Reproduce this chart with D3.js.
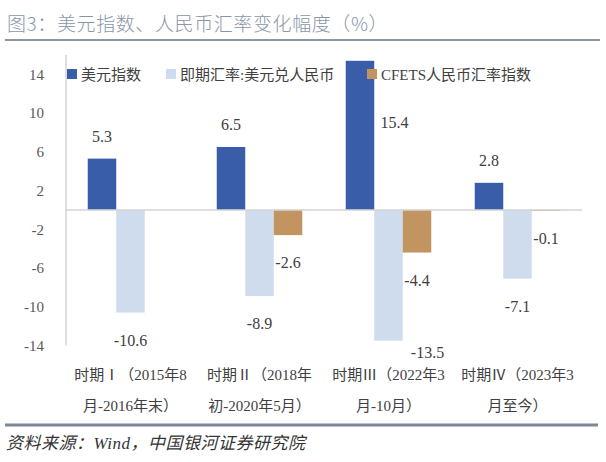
<!DOCTYPE html>
<html>
<head>
<meta charset="utf-8">
<script src="https://cdn.jsdelivr.net/npm/d3@7"></script>
<style>
  html, body { margin: 0; padding: 0; background: #fff; }
  svg { display: block; }
</style>
</head>
<body>
<svg id="chart" width="606" height="462"></svg>
<script>
// ---- data ----
const categories = ["时期Ⅰ（2015年8月-2016年末）", "时期Ⅱ（2018年初-2020年5月）", "时期Ⅲ（2022年3月-10月）", "时期Ⅳ（2023年3月至今）"];
const categoryLines = [
  ["时期Ⅰ（2015年8", "月-2016年末）"],
  ["时期Ⅱ（2018年", "初-2020年5月）"],
  ["时期Ⅲ（2022年3", "月-10月）"],
  ["时期Ⅳ（2023年3", "月至今）"]
];
const seriesNames = ["美元指数", "即期汇率:美元兑人民币", "CFETS人民币汇率指数"];
const usdIndex = [5.3, 6.5, 15.4, 2.8];
const spotRate = [-10.6, -8.9, -13.5, -7.1];
const cfetsIndex = [null, -2.6, -4.4, -0.1];
const yTicks = [-14, -10, -6, -2, 2, 6, 10, 14];
const yDomain = [-14, 16];
const titleText = "图3：美元指数、人民币汇率变化幅度（%）";
const sourceText = "资料来源：Wind，中国银河证券研究院";

// ---- styles / layout ----
const colors = ["#3A5DAA", "#CFDCEE", "#C29560"];
const seriesValues = [usdIndex, spotRate, cfetsIndex];
const numFont = "'Liberation Serif', 'Noto Sans CJK SC', serif";
const cjkFont = "'Liberation Serif', 'Noto Sans CJK SC', sans-serif";
const legendX = [67, 166, 367];
// manual label nudges (px) for labels moved off their default spot, keyed "series-category"
const labelNudge = { "0-2": { dx: 34.5, fromEnd: 67.5 }, "1-2": { dx: 39, fromEnd: 17 } };

const fmt = v => v.toFixed(1);            // plain hyphen minus like the reference
const fmtTick = v => String(v);

const svg = d3.select("#chart");

const x = d3.scaleBand().domain(categories).range([66, 582]).paddingInner(0.337).paddingOuter(0.1685);
const xs = d3.scaleBand().domain(seriesNames).range([0, x.bandwidth()]).padding(0);
const y = d3.scaleLinear().domain(yDomain).range([345.5, 55]);

// title
svg.append("text")
  .attr("x", 7).attr("y", 31)
  .attr("font-family", "'Noto Sans CJK SC', sans-serif")
  .attr("font-weight", 300)
  .attr("font-size", 19)
  .attr("letter-spacing", 0.6)
  .attr("fill", "#8A96A8")
  .text(titleText);
svg.append("line")
  .attr("x1", 5).attr("x2", 600).attr("y1", 40).attr("y2", 40)
  .attr("stroke", "#8E97A3").attr("stroke-width", 2);

// y axis
const yAxis = d3.axisLeft(y).tickValues(yTicks).tickSize(0).tickPadding(22).tickFormat(fmtTick);
const gy = svg.append("g").attr("transform", "translate(66,0)").call(yAxis);
gy.select(".domain").remove();
gy.selectAll("text")
  .attr("font-family", numFont)
  .attr("font-size", 15)
  .attr("fill", "#595959");
svg.append("line")
  .attr("x1", 66).attr("x2", 66).attr("y1", y(yDomain[1])).attr("y2", y(yDomain[0]))
  .attr("stroke", "#D4D4D4").attr("stroke-width", 1.5);

// bars
const barData = [];
seriesNames.forEach((s, si) => {
  categories.forEach((c, ci) => {
    const v = seriesValues[si][ci];
    if (v !== null && v !== undefined) barData.push({ s, si, c, ci, v, key: si + "-" + ci });
  });
});

svg.append("g").selectAll("rect").data(barData).join("rect")
  .attr("x", d => x(d.c) + xs(d.s))
  .attr("width", xs.bandwidth())
  .attr("y", d => y(Math.max(0, d.v)))
  .attr("height", d => Math.max(Math.abs(y(d.v) - y(0)), 1))
  .attr("fill", d => colors[d.si]);

// zero line
svg.append("line")
  .attr("x1", 66).attr("x2", 582).attr("y1", y(0)).attr("y2", y(0))
  .attr("stroke", "#D4D4D4").attr("stroke-width", 1.5);

// value labels
svg.append("g").selectAll("text").data(barData).join("text")
  .attr("x", d => {
    const cx = x(d.c) + xs(d.s) + xs.bandwidth() / 2;
    const n = labelNudge[d.key];
    return n ? cx + n.dx : cx;
  })
  .attr("y", d => {
    const n = labelNudge[d.key];
    if (n) return y(d.v) + n.fromEnd;
    return d.v >= 0 ? y(d.v) - 17 : y(d.v) + 33;
  })
  .attr("text-anchor", "middle")
  .attr("font-family", numFont)
  .attr("font-size", 16)
  .attr("fill", "#404040")
  .text(d => fmt(d.v));

// x labels
const gx = svg.append("g");
categories.forEach((c, ci) => {
  const t = gx.append("text")
    .attr("text-anchor", "middle")
    .attr("font-family", cjkFont)
    .attr("font-size", 15)
    .attr("fill", "#404040");
  categoryLines[ci].forEach((line, li) => {
    t.append("tspan")
      .attr("x", x(c) + x.bandwidth() / 2)
      .attr("y", 380 + li * 31)
      .text(line);
  });
});

// legend
const legend = svg.append("g");
seriesNames.forEach((s, si) => {
  const lx = legendX[si];
  legend.append("rect").attr("x", lx).attr("y", 69).attr("width", 10).attr("height", 10).attr("fill", colors[si]);
  legend.append("text")
    .attr("x", lx + 14).attr("y", 79.5)
    .attr("font-family", cjkFont)
    .attr("font-size", 15)
    .attr("fill", "#404040")
    .text(s);
});

// bottom separator and source
svg.append("line")
  .attr("x1", 5).attr("x2", 598).attr("y1", 425).attr("y2", 425)
  .attr("stroke", "#7D8896").attr("stroke-width", 3);
svg.append("text")
  .attr("x", 6).attr("y", 449)
  .attr("font-family", cjkFont)
  .attr("font-style", "italic")
  .attr("font-size", 17)
  .attr("letter-spacing", 0.5)
  .attr("fill", "#333")
  .text(sourceText);
</script>
</body>
</html>
